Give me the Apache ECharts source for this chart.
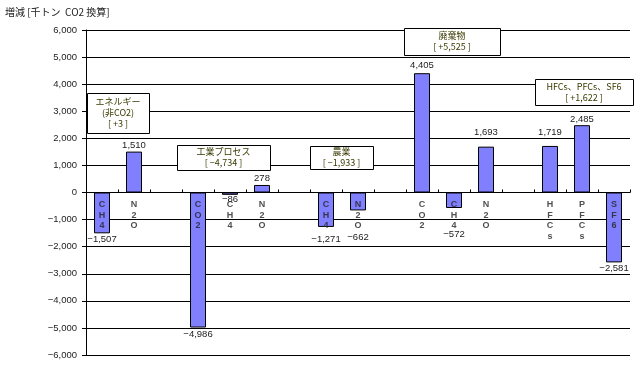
<!DOCTYPE html>
<html>
<head>
<meta charset="utf-8">
<script src="https://cdn.jsdelivr.net/npm/echarts@6/dist/echarts.min.js"></script>
<style>
html,body{margin:0;padding:0;background:#fff;}
#chart{width:643px;height:371px;}
</style>
</head>
<body>
<div id="chart"></div>
<script>
// ---- data ----
const categories = ['C\nH\n4','N\n2\nO','', 'C\nO\n2','C\nH\n4','N\n2\nO','', 'C\nH\n4','N\n2\nO','', 'C\nO\n2','C\nH\n4','N\n2\nO','', 'H\nF\nC\ns','P\nF\nC\ns','S\nF\n6'];
const values = [-1507, 1510, null, -4986, -86, 278, null, -1271, -662, null, 4405, -572, 1693, null, 1719, 2485, -2581];
const yTicks = [-6000,-5000,-4000,-3000,-2000,-1000,0,1000,2000,3000,4000,5000,6000];
const titleText = '増減 [千トン  CO2 換算]';
const boxTexts = [
  'エネルギー\n(非CO2)\n[ +3 ]',
  '工業プロセス\n[ −4,734 ]',
  '農業\n[ −1,933 ]',
  '廃棄物\n[ +5,525 ]',
  'HFCs、PFCs、SF6\n[ +1,622 ]'
];
// ---- layout (styling only) ----
const boxRects = [
  [87, 93, 62, 40],
  [177, 145, 93, 25],
  [310, 146, 63, 23],
  [404, 28, 96, 27],
  [535, 79, 98, 26]
];
// value-label gap from bar end, per category slot (the source moved some labels by hand)
const labelGap = [1, 1, 0, 2, 0, 2, 0, 8, 22, 0, 3, 22, 10, 0, 9, 1, 1];

function fmt(v){
  const s = Math.abs(v).toString().replace(/\B(?=(\d{3})+(?!\d))/g, ',');
  return v < 0 ? '−' + s : s;
}

const chart = echarts.init(document.getElementById('chart'));
const FONT = '"Liberation Sans", "Noto Sans CJK JP", sans-serif';
const CJK = '"Noto Sans CJK JP", "Liberation Sans", sans-serif';

const graphics = [{
  type: 'text', left: 5, top: 7, z: 10,
  style: { text: titleText, fill: '#222', font: '10px ' + CJK }
}];
boxRects.forEach((r, i) => {
  graphics.push({
    type: 'rect', z: 20,
    shape: { x: r[0] + 0.5, y: r[1] + 0.5, width: r[2], height: r[3] },
    style: { fill: '#fff', stroke: '#000', lineWidth: 1 }
  });
  graphics.push({
    type: 'text', z: 21,
    x: r[0] + r[2] / 2, y: r[1] + r[3] / 2,
    style: {
      text: boxTexts[i], fill: '#3a3a00', font: '9px ' + CJK,
      align: 'center', verticalAlign: 'middle', lineHeight: 11
    }
  });
});

chart.setOption({
  animation: false,
  backgroundColor: '#fff',
  grid: { left: 86, right: 13, top: 30, bottom: 16, containLabel: false, outerBoundsMode: 'none' },
  xAxis: {
    type: 'category',
    data: categories,
    axisLine: { onZero: true, lineStyle: { color: '#000', width: 1 } },
    axisTick: { show: true, inside: true, length: 3, lineStyle: { color: '#000' } },
    axisLabel: { show: false },
    splitLine: { show: false }
  },
  yAxis: {
    type: 'value',
    min: yTicks[0], max: yTicks[yTicks.length - 1], interval: 1000,
    axisLine: { show: true, lineStyle: { color: '#000', width: 1 } },
    axisTick: { show: true, length: 4, lineStyle: { color: '#000' } },
    axisLabel: { formatter: fmt, fontSize: 9.5, color: '#222', margin: 9, fontFamily: FONT },
    splitLine: { show: true, lineStyle: { color: '#000', width: 1 } }
  },
  series: [{
    type: 'bar',
    barWidth: 16,
    data: values.map((v, i) => v === null ? null : {
      value: v,
      label: { position: v >= 0 ? 'top' : 'bottom', distance: labelGap[i] }
    }),
    itemStyle: { color: '#8080ff', borderColor: '#000', borderWidth: 1 },
    label: {
      show: true, fontSize: 9.5, color: '#222', fontFamily: FONT,
      formatter: p => fmt(p.value)
    },
    z: 2
  }, {
    // category names written vertically just under the zero line
    type: 'scatter',
    symbolSize: 0,
    silent: true,
    data: categories.map((c, i) => [i, 0]),
    label: {
      show: true, position: 'bottom', distance: 7,
      fontSize: 9, fontWeight: 'bold', lineHeight: 10.5, color: '#222', fontFamily: FONT,
      align: 'center', verticalAlign: 'top',
      formatter: p => categories[p.dataIndex]
    },
    z: 5
  }],
  graphic: graphics
});
</script>
</body>
</html>
